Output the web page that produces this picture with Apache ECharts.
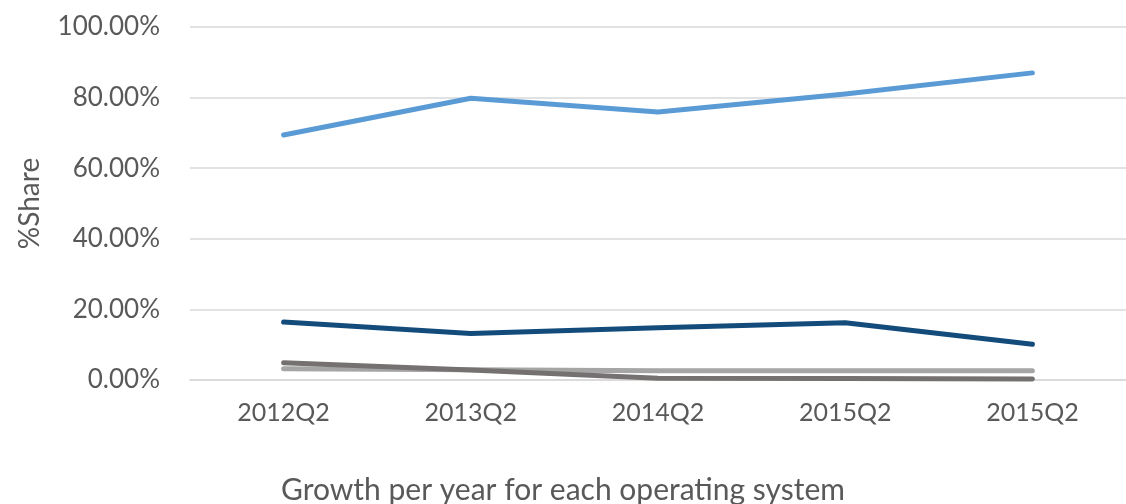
<!DOCTYPE html>
<html>
<head>
<meta charset="utf-8">
<script src="https://cdn.jsdelivr.net/npm/echarts@6/dist/echarts.min.js"></script>
<style>
  html, body { margin: 0; padding: 0; background: #ffffff; }
  #chart { width: 1126px; height: 504px; }
</style>
</head>
<body>
<div id="chart"></div>
<script>
// Quarter labels along the horizontal axis
const categories = ['2012Q2', '2013Q2', '2014Q2', '2015Q2', '2015Q2'];

// Market share per operating system, in percent
const seriesA = [69.4, 79.8, 75.9, 81.0, 87.0];   // light blue
const seriesB = [16.4, 13.2, 14.8, 16.2, 10.1];   // dark blue
const seriesC = [3.2, 2.9, 2.6, 2.6, 2.6];        // light grey
const seriesD = [4.9, 2.8, 0.5, 0.4, 0.3];        // dark grey

// Value axis ticks
const yTicks = [0, 20, 40, 60, 80, 100];

const textColor = '#595959';
const fontFamily = 'Lato, "Open Sans", sans-serif';

function line(name, data, color) {
  return {
    name: name,
    type: 'line',
    data: data,
    symbol: 'none',
    lineStyle: { color: color, width: 5, cap: 'round', join: 'round' },
    itemStyle: { color: color }
  };
}

const chart = echarts.init(document.getElementById('chart'), null, { renderer: 'canvas' });
chart.setOption({
  animation: false,
  backgroundColor: '#ffffff',
  title: {
    text: 'Growth per year for each operating system',
    left: 'center',
    top: 470,
    textStyle: { color: textColor, fontSize: 30, fontWeight: 'normal', fontFamily: fontFamily }
  },
  grid: {
    left: 190, right: 0, top: 27, bottom: 124,
    containLabel: false,
    outerBoundsMode: 'none'
  },
  xAxis: {
    type: 'category',
    data: categories,
    boundaryGap: true,
    axisLine: { show: true, lineStyle: { color: '#d9d9d9', width: 1.5 } },
    axisTick: { show: false },
    axisLabel: { color: textColor, fontSize: 25, fontFamily: fontFamily, margin: 20 },
    splitLine: { show: false }
  },
  yAxis: {
    type: 'value',
    min: yTicks[0],
    max: yTicks[yTicks.length - 1],
    interval: yTicks[1] - yTicks[0],
    name: '%Share',
    nameLocation: 'middle',
    nameGap: 146,
    nameRotate: 90,
    nameTextStyle: { color: textColor, fontSize: 28, fontFamily: fontFamily },
    axisLine: { show: false },
    axisTick: { show: false },
    axisLabel: {
      color: textColor, fontSize: 26, fontFamily: fontFamily, margin: 30,
      formatter: v => v.toFixed(2) + '%'
    },
    splitLine: { lineStyle: { color: '#d9d9d9', width: 1.5 } }
  },
  series: [
    line('A', seriesA, '#5b9bd5'),
    line('B', seriesB, '#134b7b'),
    line('C', seriesC, '#a5a5a5'),
    line('D', seriesD, '#767171')
  ]
});
</script>
</body>
</html>
